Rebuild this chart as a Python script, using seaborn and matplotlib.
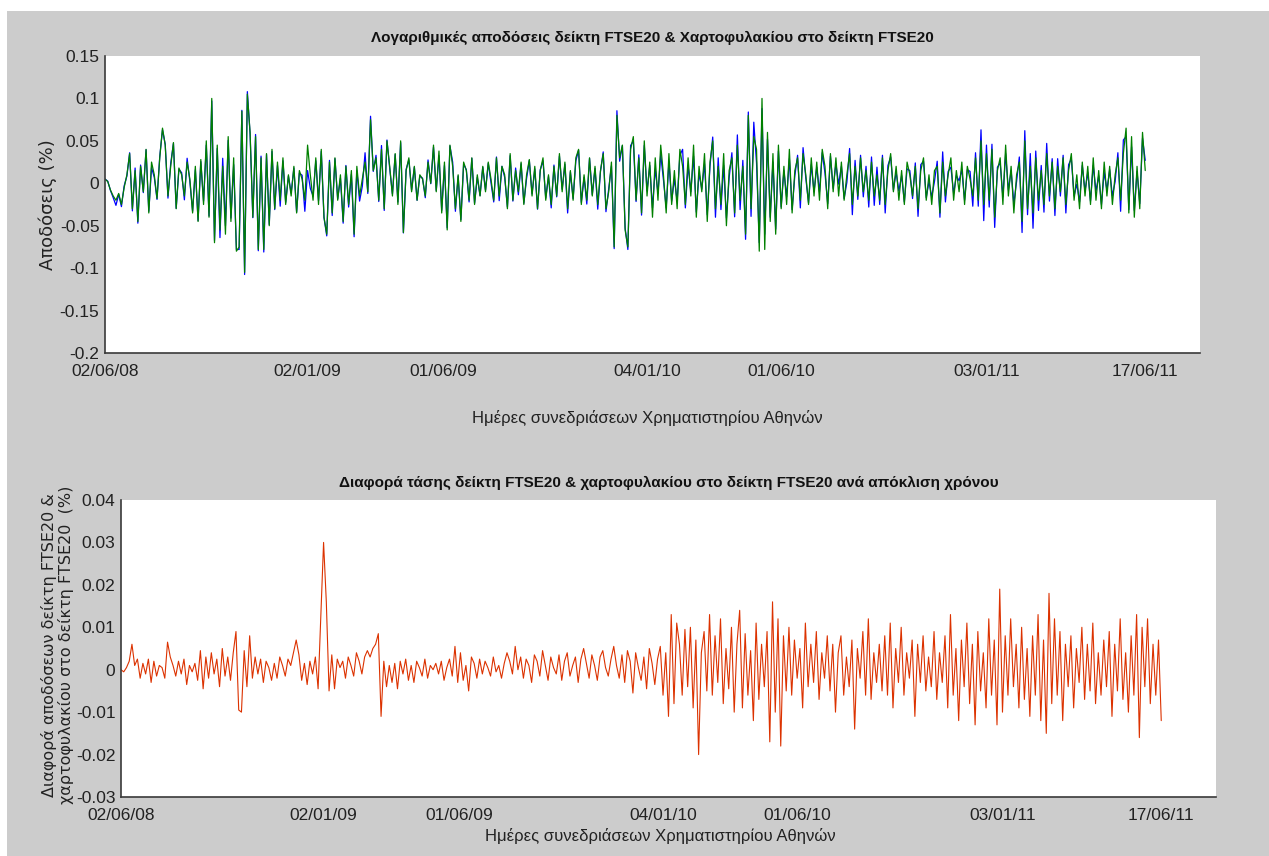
import matplotlib
matplotlib.use("Agg")
import matplotlib.pyplot as plt
from matplotlib.patches import Rectangle
import numpy as np
import seaborn as sns

# -------------------------------
# DATA (every 2nd trading day)
# -------------------------------
# log returns of FTSE20 index, in thousandths
ftse_ret_milli = [
    5, 2, -8, -15, -20, -12, -25, -5, 10, 35, -30, 15, -45, 20, -10, 40, -35, 25, 10, -18,
    30, 65, 45, -15, 20, 48, -30, 18, 10, -15, 25, 5, -35, 20, -45, 28, -25, 50, -40, 100,
    -70, 45, -55, 20, -60, 55, -45, 30, -80, -75, 85, -105, 105, 60, -40, 55, -78, 30, -78, 35,
    -50, 40, -30, 25, -20, 30, -25, 10, -15, 20, -35, 15, 5, -20, 45, 10, -20, 30, -25, 40,
    -40, -60, 25, -35, 30, -20, 10, -45, 20, -25, 15, -60, 20, -15, 5, 25, -10, 75, 15, 30,
    -20, 40, -30, 50, 20, -15, 35, -25, 50, -58, 15, 30, -10, 20, -20, 10, 5, -15, 25, 0,
    45, -10, 38, -35, 25, -55, 45, 20, -30, 10, -45, 25, 15, -20, 30, -25, 10, -15, 20, -10,
    25, 5, -20, 30, -15, 20, 10, -30, 35, -20, 15, -10, 25, -25, 10, 28, -15, 20, -30, 15,
    30, -20, 10, -25, 20, -15, 35, -10, 25, -30, 15, -20, 30, 40, -25, 10, -20, 30, -15, 20,
    -25, 15, 35, -30, -10, 25, -75, 80, 30, 45, -55, -75, 40, 55, -20, 30, -35, 50, -15, 25,
    -40, 30, -20, 45, 10, -35, 35, -25, 15, -30, 40, 20, -25, 30, -15, 45, -40, 20, -10, 35,
    -45, 25, 50, -30, 20, -25, 35, -50, 15, 30, -35, 45, -20, 20, -60, 80, -30, 55, 40, -80,
    100, -78, 60, -45, 35, -60, 45, -30, 20, -25, 40, -35, 15, 30, -20, 35, 10, -25, 30, -15,
    25, -20, 40, 20, -30, 35, -10, 30, -15, 25, -20, 10, 35, -25, 20, -15, 30, -10, 15, -20,
    25, -15, 10, -20, 30, -25, 15, 35, -10, 20, -20, 15, -25, 25, 10, -15, 20, -30, 15, 30,
    -20, 10, -25, 15, 20, -35, 25, -15, 10, 30, -20, 15, -10, 25, -25, 20, 5, -15, 30, -20,
    50, -25, 35, -20, 40, -40, 15, 30, -25, 45, -15, 20, -35, 10, 25, -45, 50, -30, 20, -35,
    30, -20, 15, -25, 35, -15, 25, -30, 20, -10, 30, -25, 15, 35, -20, 10, -30, 25, -15, 20,
    -25, 30, -20, 15, -30, 25, -15, 20, -25, 10, 30, -20, 35, 65, -35, 55, -40, 20, -30, 60,
    15,
]

# difference index - portfolio, in ten-thousandths
diff_ret_tenk = [
    0, -5, 5, 20, 60, 10, 25, -20, 15, -10, 25, -30, 20, -15, 10, 5, -20, 65, 30, 10,
    -15, 20, -10, 25, -35, 10, -5, 15, -25, 45, -45, 30, -20, 40, -10, 25, -40, 50, -15, 30,
    -25, 40, 90, -95, -100, 45, -40, 80, -20, 30, -10, 25, -30, 20, 5, -25, 15, -20, 30, 10,
    -15, 25, 10, 40, 70, 35, -25, 15, -35, 20, -10, 30, -45, 130, 300, 160, -50, 35, -45, 25,
    5, 20, -20, 30, 10, -15, 40, 20, -10, 30, 45, 30, 50, 60, 85, -110, 20, -40, 10, -30,
    15, -45, 20, -10, 25, -25, 10, -30, 20, 5, -15, 25, -20, 10, 0, 15, -10, 20, -25, 5,
    25, -15, 55, -30, 40, -25, 10, -50, 30, 15, -20, 25, -10, 20, 5, -15, 30, -5, 10, -20,
    15, 40, 20, -10, 55, 0, 30, -20, 25, 10, -30, 35, 20, -15, 45, 10, -25, 30, 5, -10,
    35, -25, 20, 40, -15, 10, 30, -30, 25, 50, 15, -20, 35, 10, -25, 30, 45, 5, -15, 25,
    55, 10, -20, 35, -30, 45, 20, -55, 40, 5, -25, 30, -45, 50, 15, -35, 25, 55, -60, 40,
    -110, 130, -80, 110, 60, -60, 95, -40, 100, -90, 70, -200, 40, 90, -50, 130, -60, 80, -30, 120,
    -80, 50, -45, 100, -100, 60, 140, -90, 85, -60, 45, -120, 110, -70, 60, -40, 90, -170, 160, -100,
    120, -180, 80, -50, 100, -60, 70, -20, 50, -90, 110, -40, 60, -30, 90, -70, 40, -20, 80, -50,
    60, -100, 40, 80, -60, 30, -40, 70, -140, 50, -20, 90, -60, 120, -70, 40, -30, 60, -50, 80,
    -60, 110, -90, 50, -30, 100, -60, 40, -20, 70, -110, 60, -30, 80, -50, 30, -40, 90, -70, 40,
    -30, 80, -90, 130, -60, 50, -120, 70, -40, 110, -80, 60, -130, 90, -50, 40, -90, 120, -60, 70,
    -130, 190, -100, 80, -60, 120, -40, 60, -90, 100, -70, 50, -110, 80, -60, 130, -120, 70, -150, 180,
    -80, 120, -60, 90, -120, 60, -40, 80, -90, 50, -30, 100, -70, 60, -50, 110, -80, 40, -60, 70,
    -40, 90, -110, 60, -50, 120, -70, 40, -100, 80, -60, 130, -160, 100, -40, 120, -80, 60, -60, 70,
    -120,
]

day_step = 2
tick_days = [0, 148, 247, 396, 494, 644, 760]
tick_labels = ["02/06/08", "02/01/09", "01/06/09", "04/01/10", "01/06/10", "03/01/11", "17/06/11"]

ftse_ret = np.array(ftse_ret_milli) / 1000.0
diff_ret = np.array(diff_ret_tenk) / 10000.0
portfolio_ret = ftse_ret - diff_ret
days = np.arange(len(ftse_ret)) * day_step

# -------------------------------
# STYLE
# -------------------------------
sns.set_style("white")
plt.rcParams["font.family"] = ["Liberation Sans", "DejaVu Sans"]
plt.rcParams["axes.edgecolor"] = "#3a3a3a"

fig = plt.figure(figsize=(12.69, 8.56), dpi=100)
fig.patch.set_facecolor("white")
fig.add_artist(Rectangle((7 / 1269, 0), 1, 1 - 11 / 856, transform=fig.transFigure,
                         facecolor="#cccccc", edgecolor="none", zorder=-10))

ax1 = fig.add_axes([105 / 1269, 1 - 353 / 856, 1095 / 1269, 297 / 856])
ax2 = fig.add_axes([121 / 1269, 1 - 797 / 856, 1095 / 1269, 297 / 856])


def style_axis(ax, yticks, ylabels):
    ax.set_facecolor("white")
    for s in ["top", "right"]:
        ax.spines[s].set_visible(False)
    for s in ["left", "bottom"]:
        ax.spines[s].set_linewidth(1.2)
    ax.set_xlim(0, 800)
    ax.set_xticks(tick_days)
    ax.set_xticklabels(tick_labels)
    ax.set_yticks(yticks)
    ax.set_yticklabels(ylabels)
    ax.tick_params(axis="x", direction="in", length=14, width=1, labelsize=12.5,
                   pad=8, colors="#3a3a3a", labelcolor="#222222")
    ax.tick_params(axis="y", direction="in", length=9, width=1, labelsize=12.5,
                   pad=4, colors="#3a3a3a", labelcolor="#222222")


# -------------------------------
# TOP: log returns
# -------------------------------
sns.lineplot(x=days, y=portfolio_ret, ax=ax1, color="#0000ff", linewidth=0.9)
sns.lineplot(x=days, y=ftse_ret, ax=ax1, color="#008000", linewidth=0.9)
ax1.set_ylim(-0.2, 0.15)
style_axis(ax1, [-0.2, -0.15, -0.1, -0.05, 0, 0.05, 0.1, 0.15],
           ["-0.2", "-0.15", "-0.1", "-0.05", "0", "0.05", "0.1", "0.15"])
ax1.set_title("Λογαριθμικές αποδόσεις δείκτη FTSE20 & Χαρτοφυλακίου στο δείκτη FTSE20",
              fontsize=11, fontweight="bold", pad=10, color="#111111")
ax1.set_xlabel("Ημέρες συνεδριάσεων Χρηματιστηρίου Αθηνών", fontsize=12, color="#222222")
ax1.xaxis.set_label_coords((647 - 105) / 1095, -(410 - 353) / 297)
ax1.set_ylabel("Αποδόσεις (%)", fontsize=13, color="#222222", family=["DejaVu Sans"])
ax1.yaxis.set_label_coords((57 - 105) / 1095, 0.5)

# -------------------------------
# BOTTOM: difference
# -------------------------------
sns.lineplot(x=days, y=diff_ret, ax=ax2, color="#dc3200", linewidth=0.8)
ax2.set_ylim(-0.03, 0.04)
style_axis(ax2, [-0.03, -0.02, -0.01, 0, 0.01, 0.02, 0.03, 0.04],
           ["-0.03", "-0.02", "-0.01", "0", "0.01", "0.02", "0.03", "0.04"])
ax2.set_title("Διαφορά τάσης δείκτη FTSE20 & χαρτοφυλακίου στο δείκτη FTSE20 ανά απόκλιση χρόνου",
              fontsize=11, fontweight="bold", pad=9, color="#111111")
ax2.set_xlabel("Ημέρες συνεδριάσεων Χρηματιστηρίου Αθηνών", fontsize=12, color="#222222")
ax2.xaxis.set_label_coords((660 - 121) / 1095, -(828 - 797) / 297)
ax2.set_ylabel("Διαφορά αποδόσεων δείκτη FTSE20 &\nχαρτοφυλακίου στο δείκτη FTSE20  (%)",
               fontsize=11.5, color="#222222", linespacing=1.05, family=["DejaVu Sans"])
ax2.yaxis.set_label_coords((74 - 121) / 1095, (797 - 645) / 297)

fig.savefig("out.png", dpi=100, facecolor=fig.get_facecolor())
